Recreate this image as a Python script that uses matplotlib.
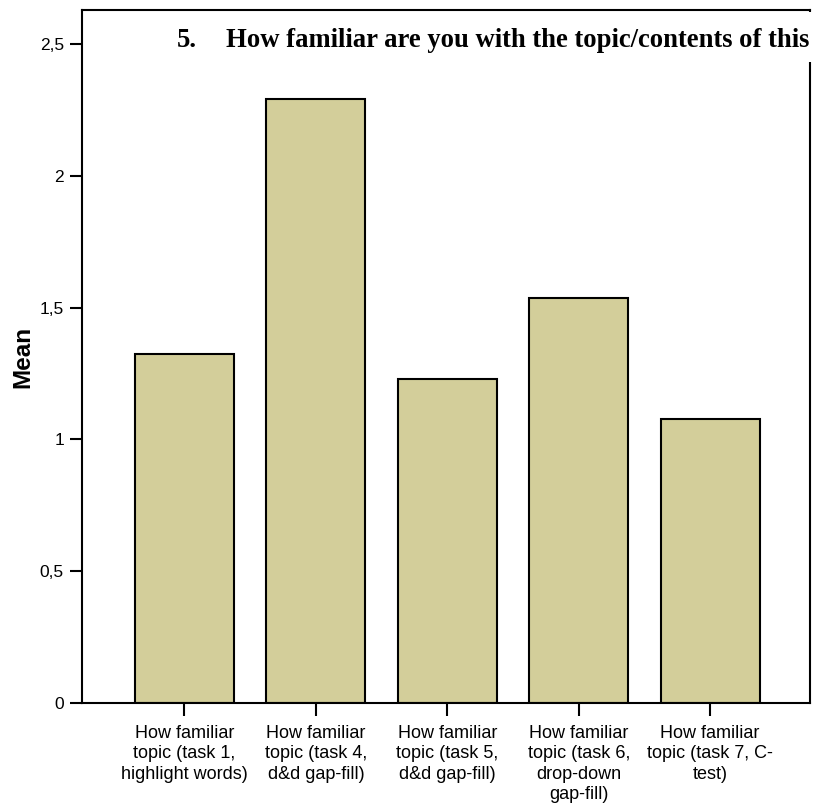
import numpy as np
import matplotlib
matplotlib.use('Agg')
import matplotlib.pyplot as plt
from matplotlib.patches import Rectangle

# Mean familiarity per task
labels = ['How familiar\ntopic (task 1,\nhighlight words)',
          'How familiar\ntopic (task 4,\nd&d gap-fill)',
          'How familiar\ntopic (task 5,\nd&d gap-fill)',
          'How familiar\ntopic (task 6,\ndrop-down\ngap-fill)',
          'How familiar\ntopic (task 7, C-\ntest)']
means = [1.324, 2.291, 1.229, 1.536, 1.077]
yticks = [0, 0.5, 1, 1.5, 2, 2.5]
ytick_labels = ['0', '0,5', '1', '1,5', '2', '2,5']
title_num = '5.'
title_text = 'How familiar are you with the topic/contents of this'

W, H = 816, 805
plt.rcParams['font.family'] = ['Liberation Sans', 'DejaVu Sans']

fig = plt.figure(figsize=(W / 100, H / 100), dpi=100)
ax = fig.add_axes([82 / W, 102 / H, 728 / W, 693 / H])

x = np.arange(len(means))
ax.bar(x, means, width=0.753, color='#d3ce9a', edgecolor='black', linewidth=1.5, zorder=2)

ax.set_xlim(-0.78, 4.76)
ax.set_ylim(0, 2.629)
ax.set_yticks(yticks)
ax.set_yticklabels(ytick_labels, fontsize=12.5)
ax.set_xticks(x)
ax.set_xticklabels(labels, fontsize=13, linespacing=1.28)
ax.tick_params(axis='both', length=9, width=1.5, direction='out', pad=4)
ax.tick_params(axis='x', pad=6.5)

for s in ax.spines.values():
    s.set_linewidth(1.5)

ax.set_ylabel('Mean', fontsize=17.5, fontweight='bold')
ax.yaxis.set_label_coords(-0.066, 0.5)

# title sits on a white strip that hides part of the right frame
fig.patches.append(Rectangle((170 / W, 1 - 62 / H), 1 - 170 / W, 50 / H,
                             transform=fig.transFigure, facecolor='white',
                             edgecolor='none', zorder=5))
fig.text(177 / W, 1 - 47 / H, title_num, fontsize=19.2, fontweight='bold',
         family='Liberation Serif', va='baseline', ha='left', zorder=6)
fig.text(226 / W, 1 - 47 / H, title_text, fontsize=19.2, fontweight='bold',
         family='Liberation Serif', va='baseline', ha='left', zorder=6)

fig.savefig('out.png', dpi=100)
